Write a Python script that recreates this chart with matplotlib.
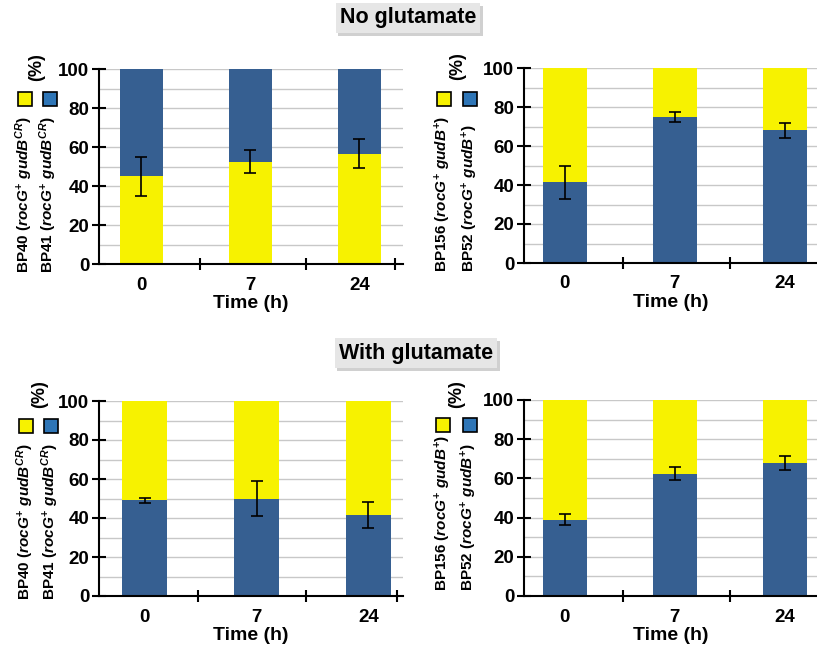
import matplotlib
matplotlib.use("Agg")
import matplotlib.pyplot as plt
from matplotlib.patches import Rectangle
from matplotlib.patheffects import withSimplePatchShadow

plt.rcParams['font.family'] = ['Liberation Sans', 'DejaVu Sans']
plt.rcParams['font.weight'] = 'bold'
plt.rcParams['mathtext.fontset'] = 'custom'
plt.rcParams['mathtext.rm'] = 'Liberation Sans:bold'
plt.rcParams['mathtext.it'] = 'Liberation Sans:italic:bold'
plt.rcParams['mathtext.bf'] = 'Liberation Sans:bold'

# data (percent of the lower stacked segment, with error)
times = ['0', '7', '24']
nog_bp40 = [45, 52.5, 56.5]
nog_bp40_err = [10, 6, 7.5]
nog_bp52 = [41.5, 75, 68]
nog_bp52_err = [8.5, 2.5, 4]
glu_bp41 = [49, 50, 41.5]
glu_bp41_err = [1.5, 9, 6.5]
glu_bp52 = [39, 62.5, 68]
glu_bp52_err = [3, 3.5, 3.5]

YELLOW = '#F7F200'
BLUE = '#365F91'
BLUE_KEY = '#2E75B6'
W, H = 817, 646

fig = plt.figure(figsize=(W / 100, H / 100), dpi=100)


def px_axes(x0, x1, ytop, ybot):
    return fig.add_axes([x0 / W, 1 - ybot / H, (x1 - x0) / W, (ybot - ytop) / H])


def panel(ax, lower, err, lower_col, upper_col, xlim, bounds):
    x = range(len(times))
    upper = [100 - v for v in lower]
    ax.bar(x, lower, width=0.4, color=lower_col, zorder=2)
    ax.bar(x, upper, width=0.4, bottom=lower, color=upper_col, zorder=2)
    ax.errorbar(x, lower, yerr=err, fmt='none', ecolor='black',
                elinewidth=1.2, capsize=4, capthick=1.2, zorder=3)
    ax.set_xlim(*xlim)
    ax.set_ylim(0, 100)
    ax.set_yticks(range(0, 101, 20))
    ax.set_yticks(range(10, 100, 20), minor=True)
    ax.yaxis.grid(True, which='both', color='#C8C8C8', lw=1, zorder=0)
    ax.set_xticks(list(x))
    ax.set_xticklabels(times, fontsize=13.5, fontweight='bold')
    ax.set_xticks(bounds, minor=True)
    ax.tick_params(axis='x', which='major', length=0, pad=9)
    ax.tick_params(axis='x', which='minor', length=8, width=1.5, direction='inout')
    ax.tick_params(axis='y', which='major', length=10, width=1.5, direction='inout',
                   labelsize=13.5, pad=2)
    ax.tick_params(axis='y', which='minor', length=0)
    for lab in ax.get_yticklabels():
        lab.set_fontweight('bold')
    ax.set_xlabel('Time (h)', fontsize=14, fontweight='bold', labelpad=1)
    for s in ['top', 'right']:
        ax.spines[s].set_visible(False)
    for s in ['left', 'bottom']:
        ax.spines[s].set_linewidth(1.5)
        ax.spines[s].set_zorder(4)


def ylabel(line1, line2, x1, x2, ybase, sq1, sq2, ysq, pct):
    for txt, xx in [(line1, x1), (line2, x2)]:
        fig.text(xx / W, 1 - ybase / H, txt, rotation=90, rotation_mode='anchor',
                 ha='left', va='center', fontsize=11, fontweight='bold')
    for xs, col in [(sq1, YELLOW), (sq2, BLUE_KEY)]:
        fig.add_artist(Rectangle((xs / W, 1 - (ysq + 14) / H), 14 / W, 14 / H,
                                 transform=fig.transFigure, fc=col, ec='black', lw=1.2))
    fig.text(pct[0] / W, 1 - pct[1] / H, '(%)', rotation=90, ha='center', va='center',
             fontsize=13, fontweight='bold')


def title(txt, xc, yc):
    t = fig.text(xc / W, 1 - yc / H, txt, ha='center', va='center', fontsize=15.5,
                 fontweight='bold',
                 bbox=dict(boxstyle='square,pad=0.2', fc='#E6E6E6', ec='none'))
    t.get_bbox_patch().set_path_effects([withSimplePatchShadow(offset=(2, -2), alpha=0.25)])


# top row: no glutamate
ax1 = px_axes(99, 403, 69, 264)
panel(ax1, nog_bp40, nog_bp40_err, YELLOW, BLUE, (-0.39, 2.4), [0.54, 1.51, 2.33])
ax2 = px_axes(524, 817, 68, 263)
panel(ax2, nog_bp52, nog_bp52_err, BLUE, YELLOW, (-0.37, 2.29), [0.53, 1.5])

# bottom row: with glutamate
ax3 = px_axes(99, 403, 401, 596)
panel(ax3, glu_bp41, glu_bp41_err, BLUE, YELLOW, (-0.41, 2.31), [0.48, 1.44, 2.26])
ax4 = px_axes(524, 817, 400, 596)
panel(ax4, glu_bp52, glu_bp52_err, BLUE, YELLOW, (-0.37, 2.29), [0.53, 1.5])

l40 = r'BP40 ($\mathit{rocG}^{+}$ $\mathit{gudB}^{CR}$)'
l41 = r'BP41 ($\mathit{rocG}^{+}$ $\mathit{gudB}^{CR}$)'
l156 = r'BP156 ($\mathit{rocG}^{+}$ $\mathit{gudB}^{+}$)'
l52 = r'BP52 ($\mathit{rocG}^{+}$ $\mathit{gudB}^{+}$)'

ylabel(l40, l41, 24, 48, 273, 18, 43, 92, (37, 67))
ylabel(l156, l52, 443, 470, 272, 437, 463, 92, (458, 66))
ylabel(l40, l41, 25, 50, 600, 19, 44, 419, (40, 394))
ylabel(l156, l52, 443, 469, 591, 436, 463, 418, (457, 394))

title('No glutamate', 408, 18)
title('With glutamate', 416, 353)

fig.savefig('out.png', dpi=100)
